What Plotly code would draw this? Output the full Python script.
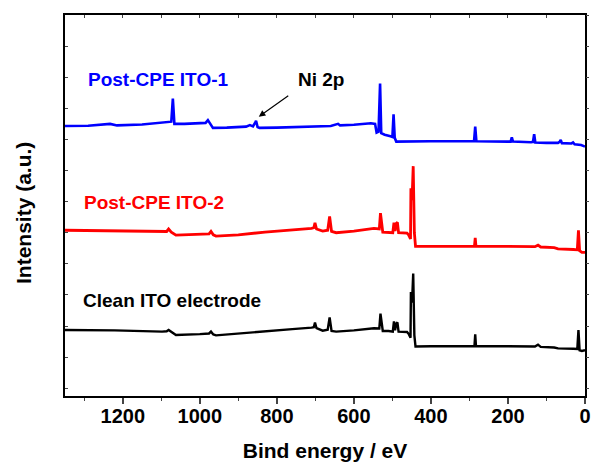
import plotly.graph_objects as go

# XPS survey spectra (binding energy in eV, intensity in arbitrary units, offset per sample)
ito1_energy = [1350, 1290, 1233, 1215, 1150, 1085, 1074, 1070, 1066, 1040, 985, 979, 972, 966,
               930, 880, 870, 862, 856, 854, 850, 845, 800, 720, 660, 641, 636, 600, 556, 545,
               541, 536, 532, 529, 520, 505, 500, 497, 494, 490, 450, 400, 300, 288, 285, 282,
               200, 193, 190, 187, 140, 135, 132, 129, 100, 70, 66, 63, 60, 35, 31, 27, 10, 0]
ito1_intensity = [8.43, 8.44, 8.50, 8.45, 8.48, 8.56, 8.57, 9.31, 8.50, 8.50, 8.53, 8.62, 8.50, 8.37,
                  8.38, 8.41, 8.46, 8.42, 8.55, 8.60, 8.40, 8.37, 8.38, 8.40, 8.43, 8.50, 8.45, 8.47, 8.52, 8.50,
                  8.22, 8.25, 9.80, 8.20, 8.15, 8.10, 8.08, 8.81, 8.05, 7.93, 7.94, 7.94, 7.94, 7.95, 8.41, 7.94,
                  7.93, 7.93, 8.07, 7.93, 7.91, 7.92, 8.17, 7.90, 7.89, 7.89, 7.92, 7.98, 7.88, 7.87, 7.90, 7.84, 7.82, 7.77]

ito2_energy = [1350, 1221, 1098, 1086, 1081, 1074, 1062, 1000, 976, 971, 965, 958, 900, 831, 760,
               710, 704, 701, 697, 681, 668, 663, 658, 646, 600, 548, 534, 531, 525, 510, 499,
               496, 493, 490, 487, 484, 470, 462, 458, 455, 453, 452, 449, 446, 443, 440, 400,
               300, 287, 285, 283, 200, 130, 122, 115, 80, 70, 30, 20, 17, 14, 8, 0]
ito2_intensity = [5.08, 5.06, 5.03, 5.04, 5.12, 5.02, 4.92, 4.95, 4.96, 5.04, 4.93, 4.89, 4.93, 5.02, 5.08,
                  5.14, 5.16, 5.32, 5.12, 5.05, 5.08, 5.52, 5.04, 5.00, 5.05, 5.14, 5.12, 5.63, 5.02, 5.02, 5.00,
                  5.32, 5.05, 5.30, 5.33, 5.00, 4.99, 4.99, 4.93, 4.84, 4.80, 6.43, 6.05, 7.14, 5.00, 4.56, 4.56,
                  4.56, 4.56, 4.83, 4.56, 4.56, 4.55, 4.60, 4.54, 4.52, 4.48, 4.46, 4.45, 5.08, 4.42, 4.37, 4.37]

clean_energy = [1350, 1221, 1098, 1086, 1081, 1074, 1062, 1000, 976, 971, 965, 958, 900, 831, 760,
                710, 704, 701, 697, 681, 668, 663, 658, 646, 600, 548, 534, 531, 525, 510, 499,
                496, 493, 490, 487, 484, 470, 462, 458, 455, 453, 452, 449, 446, 443, 440, 400,
                300, 287, 285, 283, 200, 130, 122, 115, 80, 70, 30, 20, 17, 14, 8, 0]
clean_intensity = [1.87, 1.86, 1.82, 1.83, 1.87, 1.80, 1.71, 1.74, 1.76, 1.82, 1.73, 1.70, 1.76, 1.85, 1.90,
                   1.95, 1.96, 2.11, 1.93, 1.85, 1.88, 2.28, 1.84, 1.82, 1.86, 1.93, 1.92, 2.40, 1.84, 1.84, 1.82,
                   2.15, 1.86, 2.08, 2.12, 1.82, 1.81, 1.81, 1.75, 1.66, 1.62, 3.09, 2.75, 3.69, 1.70, 1.34, 1.35,
                   1.35, 1.35, 1.73, 1.35, 1.35, 1.34, 1.40, 1.33, 1.31, 1.28, 1.27, 1.26, 1.87, 1.22, 1.20, 1.22]

x_ticks = [1200, 1000, 800, 600, 400, 200, 0]
x_range = [1350, 0]
y_range = [-0.25, 12]

FONT = "Liberation Sans"

fig = go.Figure()
fig.add_trace(go.Scatter(x=ito1_energy, y=ito1_intensity, mode="lines",
                         line=dict(color="#0000FF", width=2.6), showlegend=False))
fig.add_trace(go.Scatter(x=ito2_energy, y=ito2_intensity, mode="lines",
                         line=dict(color="#FF0000", width=2.8), showlegend=False))
fig.add_trace(go.Scatter(x=clean_energy, y=clean_intensity, mode="lines",
                         line=dict(color="#000000", width=2.4), showlegend=False))
# empty trace to carry the top/right tick axes
fig.add_trace(go.Scatter(x=[], y=[], xaxis="x2", yaxis="y2", showlegend=False))

label_font = dict(family=FONT, size=19, weight="bold")
fig.add_annotation(x=1295, y=9.93, xanchor="left", yanchor="middle", showarrow=False,
                   text="Post-CPE ITO-1", font=dict(label_font, color="#0000FF"))
fig.add_annotation(x=1305, y=5.96, xanchor="left", yanchor="middle", showarrow=False,
                   text="Post-CPE ITO-2", font=dict(label_font, color="#FF0000"))
fig.add_annotation(x=1308, y=2.83, xanchor="left", yanchor="middle", showarrow=False,
                   text="Clean ITO electrode", font=dict(label_font, color="#000000"))
fig.add_annotation(x=750, y=9.94, xanchor="left", yanchor="middle", showarrow=False,
                   text="Ni 2p", font=dict(label_font, color="#000000"))
fig.add_annotation(x=847, y=8.73, ax=31, ay=-22, text="", showarrow=True,
                   arrowhead=2, arrowsize=1.1, arrowwidth=1.2, arrowcolor="#000000")

# y-axis title, placed slightly below the centre of the frame
fig.add_annotation(xref="paper", yref="paper", x=-0.081, y=0.48, xanchor="center",
                   yanchor="middle", textangle=-90, showarrow=False, text="Intensity (a.u.)",
                   font=dict(family=FONT, size=21, weight="bold", color="black"))

fig.update_layout(
    width=594, height=468,
    margin=dict(l=65, r=9, t=15, b=72, autoexpand=False),
    paper_bgcolor="white", plot_bgcolor="white",
    xaxis=dict(range=x_range, tickvals=x_ticks, ticks="outside", ticklen=6, tickwidth=1.5,
               showline=True, mirror=True, linewidth=1.6, linecolor="black", showgrid=False,
               zeroline=False, automargin=False, ticklabelstandoff=-5,
               tickfont=dict(family=FONT, size=20, weight="bold", color="black"),
               minor=dict(dtick=100, ticks="outside", ticklen=3, tickwidth=1.2),
               title=dict(text="Bind energy / eV", standoff=18,
                          font=dict(family=FONT, size=21, weight="bold", color="black"))),
    yaxis=dict(range=y_range, dtick=1, tick0=0, ticks="inside", ticklen=3, tickwidth=1.2,
               showticklabels=False, showline=True, mirror=True, linewidth=1.6, linecolor="black",
               showgrid=False, zeroline=False, automargin=False),
    xaxis2=dict(range=x_range, overlaying="x", side="top", dtick=100, tick0=0, ticks="inside",
                ticklen=3, tickwidth=1.2, showticklabels=False, showline=False, showgrid=False,
                zeroline=False, automargin=False),
    yaxis2=dict(range=y_range, overlaying="y", side="right", dtick=1, tick0=0, ticks="outside",
                ticklen=3, tickwidth=1.2, showticklabels=False, showline=False, showgrid=False,
                zeroline=False, automargin=False),
)

fig.write_html("out.html")
